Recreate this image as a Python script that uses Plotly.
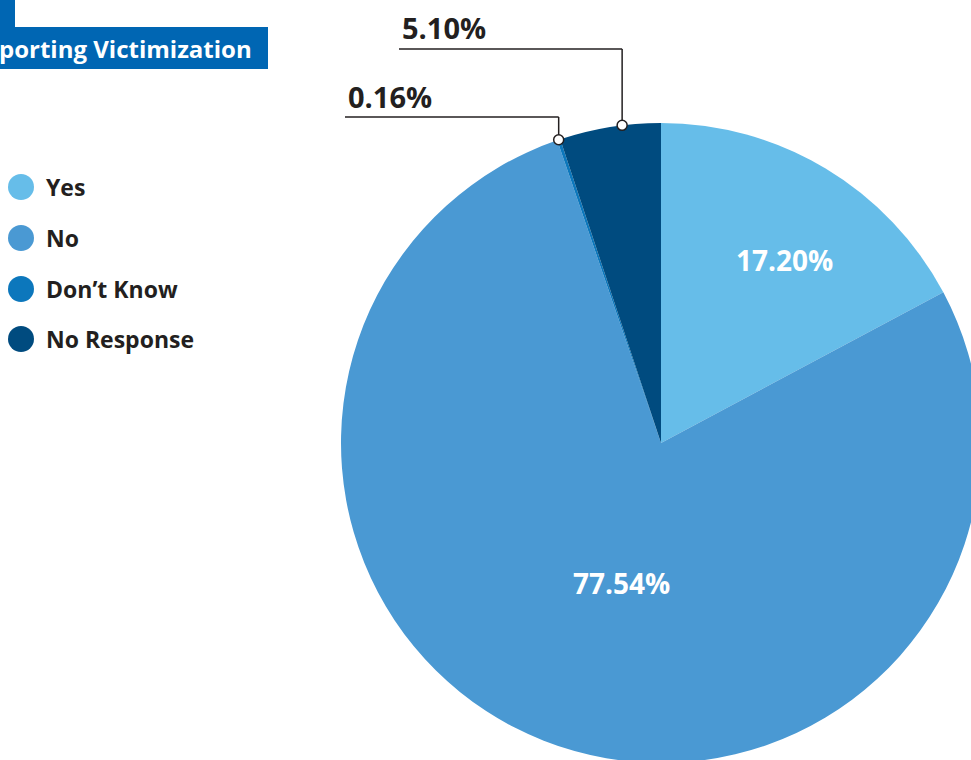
import math
import plotly.graph_objects as go

# Survey responses on reporting victimization
categories = ["Yes", "No", "Don\u2019t Know", "No Response"]
shares = [17.20, 77.54, 0.16, 5.10]
label_text = ["17.20%", "77.54%", "0.16%", "5.10%"]
colors = ["#66BDE9", "#4A99D3", "#0C77BC", "#004B7F"]

# Canvas and pie geometry (pixels, y measured from top)
W, H = 1000, 780
CX, CY, R = 661, 443, 320
TEXT_DARK = "#231F20"
FONT = "Open Sans"


def px(x):
    return x / W


def py(y):
    return 1 - y / H


fig = go.Figure(
    go.Pie(
        labels=categories,
        values=shares,
        sort=False,
        direction="clockwise",
        rotation=0,
        marker=dict(colors=colors, line=dict(width=0)),
        textinfo="none",
        hoverinfo="label+percent",
        showlegend=False,
        domain=dict(x=[px(CX - R), px(CX + R)], y=[py(CY + R), py(CY - R)]),
    )
)

# Start angle and angular span of every slice (degrees clockwise from 12 o'clock)
total = sum(shares)
starts, spans = [], []
acc = 0.0
for v in shares:
    starts.append(acc / total * 360)
    spans.append(v / total * 360)
    acc += v


def polar(angle_deg, r):
    a = math.radians(angle_deg)
    return CX + r * math.sin(a), CY - r * math.cos(a)


shapes = []
annotations = []

# Inside labels for the two large slices: (position through slice, fraction of radius)
inside = {0: (0.55, 0.69), 1: (0.48, 0.455)}
for i, (frac, rf) in inside.items():
    x, y = polar(starts[i] + spans[i] * frac, R * rf)
    annotations.append(dict(
        x=px(x), y=py(y), xref="paper", yref="paper", text=label_text[i],
        xanchor="center", yanchor="middle", showarrow=False,
        font=dict(family=FONT, size=28, color="white", weight="bold"),
    ))

# Callout labels for the two thin slices: dot on the rim, elbow leader line
# (position through slice, leader height, leader left end)
callouts = {2: (0.5, 117, 345), 3: (0.62, 49, 399)}
for i, (frac, ly, lx) in callouts.items():
    x, y = polar(starts[i] + spans[i] * frac, R)
    shapes.append(dict(type="line", xref="paper", yref="paper",
                       x0=px(x), y0=py(y), x1=px(x), y1=py(ly),
                       line=dict(color=TEXT_DARK, width=1.5)))
    shapes.append(dict(type="line", xref="paper", yref="paper",
                       x0=px(x), y0=py(ly), x1=px(lx), y1=py(ly),
                       line=dict(color=TEXT_DARK, width=1.5)))
    shapes.append(dict(type="circle", xref="paper", yref="paper",
                       x0=px(x - 5), x1=px(x + 5), y0=py(y - 5), y1=py(y + 5),
                       fillcolor="white", line=dict(color=TEXT_DARK, width=1.5)))
    annotations.append(dict(
        x=px(lx + 1), y=py(ly - 21), xref="paper", yref="paper", text=label_text[i],
        xanchor="left", yanchor="middle", showarrow=False,
        font=dict(family=FONT, size=29, color=TEXT_DARK, weight="bold"),
    ))

# Legend drawn as dots with bold labels
legend_y = [187, 238, 289, 339]
for name, col, ly in zip(categories, colors, legend_y):
    shapes.append(dict(type="circle", xref="paper", yref="paper",
                       x0=px(8), x1=px(34), y0=py(ly - 13), y1=py(ly + 13),
                       fillcolor=col, line=dict(width=0)))
    annotations.append(dict(
        x=px(44), y=py(ly), xref="paper", yref="paper", text=name,
        xanchor="left", yanchor="middle", showarrow=False,
        font=dict(family=FONT, size=23, color=TEXT_DARK, weight="bold"),
    ))

# Title banner
shapes.append(dict(type="rect", xref="paper", yref="paper",
                   x0=px(0), x1=px(15), y0=py(27), y1=py(0),
                   fillcolor="#0066B3", line=dict(width=0)))
shapes.append(dict(type="rect", xref="paper", yref="paper",
                   x0=px(0), x1=px(268), y0=py(69), y1=py(27),
                   fillcolor="#0066B3", line=dict(width=0)))
annotations.append(dict(
    x=px(254), y=py(48), xref="paper", yref="paper", text="porting Victimization",
    xanchor="right", yanchor="middle", showarrow=False,
    font=dict(family=FONT, size=24, color="white", weight="bold"),
))

fig.update_layout(
    width=W, height=H,
    margin=dict(l=0, r=0, t=0, b=0),
    paper_bgcolor="white",
    plot_bgcolor="white",
    shapes=shapes,
    annotations=annotations,
)

fig.write_html(
    "out.html",
    config={"displayModeBar": False},
    post_script=(
        "document.documentElement.style.overflow='hidden';"
        "document.body.style.overflow='hidden';"
        "document.body.style.margin='0';"
    ),
)
